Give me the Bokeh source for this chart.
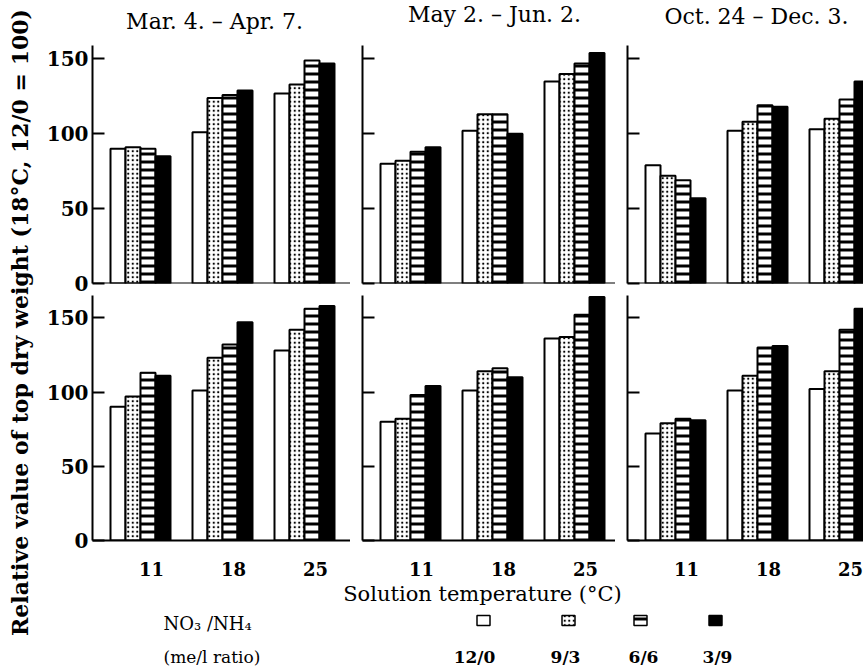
import numpy as np
from bokeh.plotting import figure
from bokeh.layouts import row, column
from bokeh.models import Range1d, FixedTicker, Span, ColumnDataSource
from bokeh.core.properties import value
from bokeh.embed import file_html
from bokeh.resources import INLINE

# ---------------- data ----------------
temps = [11, 18, 25]
temp_labels = ["11", "18", "25"]
ratios = ["12/0", "9/3", "6/6", "3/9"]
periods = ["Mar. 4. \u2013 Apr. 7.", "May 2. \u2013 Jun. 2.", "Oct. 24 \u2013 Dec. 3."]
y_ticks = [0, 50, 100, 150]

# rows = NO3/NH4 ratio (12/0, 9/3, 6/6, 3/9), columns = temperature (11, 18, 25)
top_mar_apr = [[90, 101, 127], [91, 124, 133], [90, 126, 149], [85, 129, 147]]
top_may_jun = [[80, 102, 135], [82, 113, 140], [88, 113, 147], [91, 100, 154]]
top_oct_dec = [[79, 102, 103], [72, 108, 110], [69, 119, 123], [57, 118, 135]]
bot_mar_apr = [[90, 101, 128], [97, 123, 142], [113, 132, 156], [111, 147, 158]]
bot_may_jun = [[80, 101, 136], [82, 114, 137], [98, 116, 152], [104, 110, 164]]
bot_oct_dec = [[72, 101, 102], [79, 111, 114], [82, 130, 142], [81, 131, 156]]

ylabel = "Relative value of top dry weight (18\u00b0C, 12/0 = 100)"
xlabel = "Solution temperature (\u00b0C)"

# ---------------- styles ----------------
FONT = "DejaVu Serif"
PX_PER_DEG = 82.0 / 7.0
BW = 15.0 / PX_PER_DEG           # bar width in degrees
SHIFT = 11.0 / PX_PER_DEG        # group centre sits left of tick label
FRAME_W = [258, 253, 236]
BORDER_L = [52, 12, 12]
TITLE_H = 45

styles = [
    dict(fill_color="white"),
    dict(fill_color="white", hatch_pattern="dot", hatch_color="black", hatch_scale=4.5, hatch_weight=3.0),
    dict(fill_color="white", hatch_pattern="horizontal_line", hatch_color="black", hatch_scale=8, hatch_weight=3),
    dict(fill_color="black"),
]


def make_panel(vals, r, c):
    fw = FRAME_W[c]
    bl = BORDER_L[c]
    if r == 0:
        bt, bb, fh, ymax = 0, 12, 238, 159
    else:
        bt, bb, fh, ymax = 0, 42, 245, 165
    g0 = temps[0] - SHIFT
    x0 = g0 - 48.0 / PX_PER_DEG
    p = figure(width=bl + fw, height=bt + fh + bb,
               x_range=Range1d(x0, x0 + fw / PX_PER_DEG), y_range=Range1d(0, ymax),
               output_backend="svg", toolbar_location=None,
               min_border_left=bl, min_border_right=0,
               min_border_top=bt, min_border_bottom=bb)
    p.outline_line_color = None
    p.grid.visible = False
    p.background_fill_color = "white"
    p.border_fill_color = "white"
    xs = np.array(temps, dtype=float) - SHIFT
    for k in range(len(ratios)):
        src = ColumnDataSource(dict(x=xs + (k - 1.5) * BW, top=vals[k]))
        p.vbar(x="x", top="top", bottom=0, width=BW, source=src,
               line_color="black", line_width=2, **styles[k])
    # y axis
    ya = p.yaxis[0]
    ya.ticker = FixedTicker(ticks=y_ticks)
    ya.major_tick_in = 12
    ya.major_tick_out = 0
    ya.minor_tick_in = 0
    ya.minor_tick_out = 0
    ya.axis_line_width = 2
    ya.major_tick_line_width = 2
    ya.major_label_standoff = 4
    ya.major_label_text_font = FONT
    ya.major_label_text_font_style = "bold"
    ya.major_label_text_font_size = "20px"
    ya.major_label_text_color = "black"
    if c != 0:
        ya.major_label_overrides = {t: "" for t in y_ticks}
    # x axis
    xa = p.xaxis[0]
    if r == 0:
        xa.visible = False
        p.add_layout(Span(location=0, dimension="width", line_color="black", line_width=2))
    else:
        xa.ticker = FixedTicker(ticks=temps)
        xa.major_tick_in = 0
        xa.major_tick_out = 0
        xa.minor_tick_in = 0
        xa.minor_tick_out = 0
        xa.axis_line_width = 2
        xa.major_label_standoff = 21
        xa.major_label_text_font = FONT
        xa.major_label_text_font_style = "bold"
        xa.major_label_text_font_size = "18px"
        xa.major_label_text_color = "black"
    return p


top_vals = [top_mar_apr, top_may_jun, top_oct_dec]
bot_vals = [bot_mar_apr, bot_may_jun, bot_oct_dec]
top_row = row(*[make_panel(top_vals[c], 0, c) for c in range(3)], spacing=0)
bot_row = row(*[make_panel(bot_vals[c], 1, c) for c in range(3)], spacing=0)

LW = 823


def blank_fig(w, h):
    f = figure(width=w, height=h, x_range=Range1d(0, w), y_range=Range1d(0, h),
               x_axis_location=None, y_axis_location=None, min_border=0,
               output_backend="svg", toolbar_location=None)
    f.outline_line_color = None
    f.grid.visible = False
    return f


# period titles
tfig = blank_fig(LW, TITLE_H)
title_x = [174, 454, 716]
title_y = [TITLE_H - 21, TITLE_H - 14, TITLE_H - 16]
tfig.text(x=title_x, y=title_y, text=periods, text_align="center", text_baseline="middle",
          text_font=value(FONT), text_font_size="22px", text_color="black")

# y label figure
ylab = blank_fig(40, 668)
ylab.text(x=[19], y=[668 - 322], text=[ylabel], angle=np.pi / 2,
          text_align="center", text_baseline="middle",
          text_font=value(FONT), text_font_style="bold", text_font_size="22px",
          text_color="black")

# legend / x label figure
LH = 86
leg = blank_fig(LW, LH)
leg.text(x=[442], y=[LH - 11], text=[xlabel], text_align="center", text_baseline="middle",
         text_font=value(FONT), text_font_size="21px", text_color="black")
leg.text(x=[123], y=[LH - 41], text=["NO\u2083 /NH\u2084"], text_align="left", text_baseline="middle",
         text_font=value(FONT), text_font_size="18px", text_color="black")
leg.text(x=[123], y=[LH - 74], text=["(me/l ratio)"], text_align="left", text_baseline="middle",
         text_font=value(FONT), text_font_size="17px", text_color="black")
sw_x = [443, 528, 600, 675]
lab_x = [434, 525, 603, 677]
for k in range(len(ratios)):
    leg.rect(x=[sw_x[k]], y=[LH - 38], width=13, height=10, line_color="black", line_width=1.5,
             **styles[k])
leg.text(x=lab_x, y=[LH - 74] * 4, text=ratios, text_align="center", text_baseline="middle",
         text_font=value(FONT), text_font_style="bold", text_font_size="17px", text_color="black")

layout = row(ylab, column(tfig, top_row, bot_row, leg, spacing=0), spacing=0)

open("out.html", "w").write(file_html(layout, INLINE))
